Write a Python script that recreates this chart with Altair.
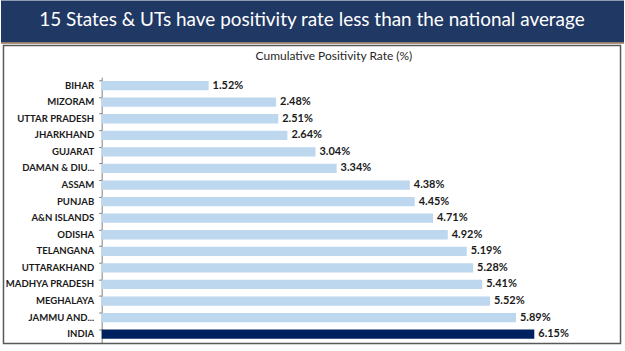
import altair as alt
import pandas as pd

states = ["BIHAR", "MIZORAM", "UTTAR PRADESH", "JHARKHAND", "GUJARAT", "DAMAN & DIU...",
          "ASSAM", "PUNJAB", "A&N ISLANDS", "ODISHA", "TELANGANA", "UTTARAKHAND",
          "MADHYA PRADESH", "MEGHALAYA", "JAMMU AND...", "INDIA"]
rates = [1.52, 2.48, 2.51, 2.64, 3.04, 3.34, 4.38, 4.45, 4.71, 4.92, 5.19, 5.28,
         5.41, 5.52, 5.89, 6.15]
groups = ["state"] * 15 + ["india"]

df = pd.DataFrame({"state": states, "rate": rates, "group": groups})
df["label"] = [f"{v:.2f}%" for v in rates]

header_text = "15 States & UTs have positivity rate less than the national average"
sub_title = "Cumulative Positivity Rate (%)"

header = alt.layer(
    alt.Chart(pd.DataFrame({"t": [header_text]})).mark_text(
        font="Lato", fontSize=19, color="white", align="center", baseline="middle"
    ).encode(x=alt.value(312), y=alt.value(20), text="t:N"),
    alt.Chart(pd.DataFrame({"a": [0]})).mark_rule(color="#b8906e", strokeWidth=1.5).encode(
        x=alt.value(0), x2=alt.value(625), y=alt.value(42.5)
    ),
).properties(width=625, height=43, view=alt.ViewConfig(fill="#1f3864", stroke=None))

xs = alt.Scale(domain=[0, 7], range=[101, 595])
ys = alt.Scale(domain=states, range=[33, 299], paddingInner=0.44, paddingOuter=0.22)

base = alt.Chart(df)
bars = base.mark_bar().encode(
    x=alt.X("rate:Q", scale=xs, axis=None),
    y=alt.Y("state:N", sort=states, scale=ys,
            axis=alt.Axis(title=None, offset=-101, domainColor="#7f7f7f", tickColor="#7f7f7f",
                          tickSize=3, labelFont="Lato", labelFontWeight="bold", labelFontSize=9.6,
                          labelColor="#1a1a1a", labelPadding=5, bandPosition=0,
                          ticks=True, domainWidth=1)),
    color=alt.Color("group:N", scale=alt.Scale(domain=["state", "india"], range=["#bdd7ee", "#002060"]),
                    legend=None),
)
texts = base.mark_text(align="left", dx=4, font="Lato", fontWeight="bold", fontSize=11,
                       color="#1a1a1a", baseline="middle").encode(
    x=alt.X("rate:Q", scale=xs), y=alt.Y("state:N", sort=states, scale=ys), text="label:N"
)
sub = alt.Chart(pd.DataFrame({"t": [sub_title]})).mark_text(
    font="Lato", fontSize=12, color="#262626", align="center", baseline="middle"
).encode(x=alt.value(334), y=alt.value(12), text="t:N")
box = alt.Chart(pd.DataFrame({"a": [0]})).mark_rect(
    fill=None, stroke="#595959", strokeWidth=1.5
).encode(x=alt.value(2.5), x2=alt.value(621.5), y=alt.value(1), y2=alt.value(300))

main = alt.layer(box, bars, texts, sub).properties(
    width=625, height=308, view=alt.ViewConfig(stroke=None)
)

chart = alt.vconcat(header, main, spacing=0).properties(
    padding=0, background="white"
).configure_concat(spacing=0)

chart.save("out.html", embed_options={"renderer": "svg", "actions": False})
